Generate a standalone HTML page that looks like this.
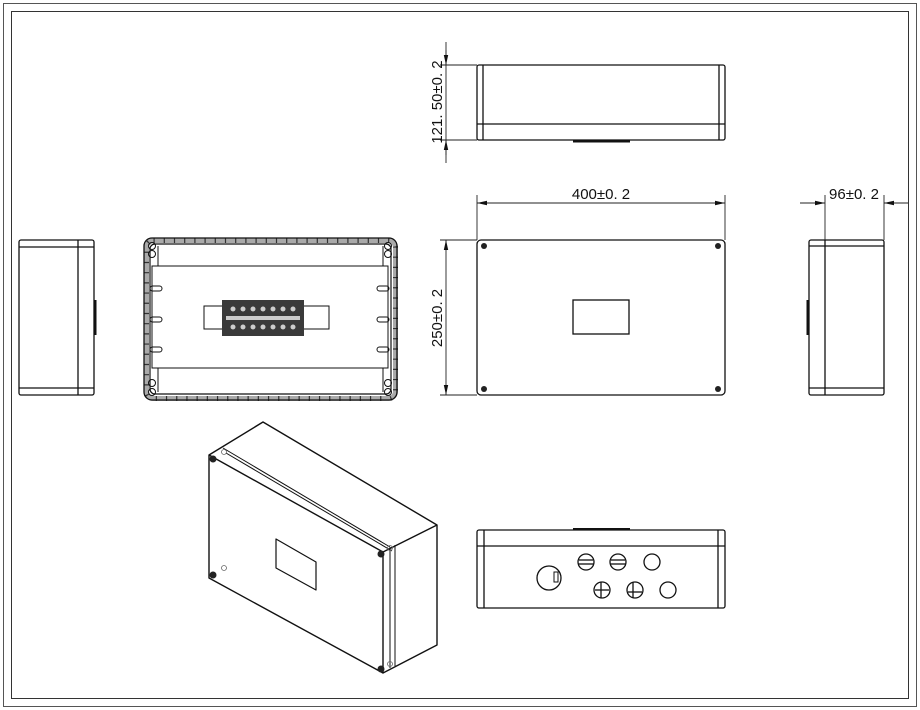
<!DOCTYPE html>
<html><head><meta charset="utf-8"><style>
html,body{margin:0;padding:0;background:#fff;}
svg{display:block;}
text{font-family:"Liberation Sans","DejaVu Sans",sans-serif;font-size:15px;fill:#111;}
</style></head><body>
<svg width="920" height="710" viewBox="0 0 920 710" xmlns="http://www.w3.org/2000/svg">
<defs>
<marker id="ar" markerWidth="10" markerHeight="6" refX="10" refY="3" orient="auto" markerUnits="userSpaceOnUse"><path d="M0,0.8 L10,3 L0,5.2 z" fill="#111"/></marker>
</defs>
<rect x="0" y="0" width="920" height="710" fill="#fff"/>
<rect x="3.5" y="3.5" width="913" height="703" fill="none" stroke="#555" stroke-width="1"/>
<rect x="11.5" y="11.5" width="897" height="687" fill="none" stroke="#333" stroke-width="1"/>

<g fill="none" stroke="#111" stroke-width="1.3">
<rect x="477" y="65" width="248" height="75" rx="2"/>
<line x1="483" y1="65" x2="483" y2="140"/><line x1="719" y1="65" x2="719" y2="140"/>
<line x1="477" y1="124" x2="725" y2="124"/>
<line x1="573" y1="141.5" x2="630" y2="141.5" stroke-width="2"/>
<rect x="19" y="240" width="75" height="155" rx="2"/>
<line x1="78" y1="240" x2="78" y2="395"/>
<line x1="19" y1="247" x2="94" y2="247"/><line x1="19" y1="388" x2="94" y2="388"/>
<line x1="95.5" y1="300" x2="95.5" y2="335" stroke-width="2"/>
<rect x="809" y="240" width="75" height="155" rx="2"/>
<line x1="825" y1="240" x2="825" y2="395"/>
<line x1="809" y1="246" x2="884" y2="246"/><line x1="809" y1="388" x2="884" y2="388"/>
<line x1="807.5" y1="300" x2="807.5" y2="335" stroke-width="2"/>
<rect x="477" y="240" width="248" height="155" rx="4"/>
<rect x="573" y="300" width="56" height="34"/>
</g>
<g fill="#222">
<circle cx="484" cy="246" r="3"/><circle cx="718" cy="246" r="3"/>
<circle cx="484" cy="389" r="3"/><circle cx="718" cy="389" r="3"/>
</g>

<g stroke="#222" stroke-width="0.9" fill="none">
<line x1="446" y1="42" x2="446" y2="163"/>
<line x1="446" y1="50" x2="446" y2="65" marker-end="url(#ar)"/>
<line x1="446" y1="155" x2="446" y2="140" marker-end="url(#ar)"/>
<line x1="440" y1="65" x2="477" y2="65"/><line x1="440" y1="140" x2="477" y2="140"/>
<line x1="477" y1="195" x2="477" y2="240"/><line x1="725" y1="195" x2="725" y2="240"/>
<line x1="601" y1="203" x2="477" y2="203" marker-end="url(#ar)"/>
<line x1="601" y1="203" x2="725" y2="203" marker-end="url(#ar)"/>
<line x1="440" y1="240" x2="477" y2="240"/><line x1="440" y1="395" x2="477" y2="395"/>
<line x1="446" y1="318" x2="446" y2="240" marker-end="url(#ar)"/>
<line x1="446" y1="318" x2="446" y2="395" marker-end="url(#ar)"/>
<line x1="825" y1="195" x2="825" y2="240"/><line x1="884" y1="195" x2="884" y2="240"/>
<line x1="800" y1="203" x2="825" y2="203" marker-end="url(#ar)"/>
<line x1="908" y1="203" x2="884" y2="203" marker-end="url(#ar)"/>
</g>
<text x="601" y="199" text-anchor="middle">400±0. 2</text>
<text x="854" y="199" text-anchor="middle">96±0. 2</text>
<text transform="translate(442,102) rotate(-90)" text-anchor="middle">121. 50±0. 2</text>
<text transform="translate(442,318) rotate(-90)" text-anchor="middle">250±0. 2</text>

<!-- internal view -->
<g fill="none" stroke="#111">
<rect x="146.5" y="240.5" width="249" height="158" rx="7" stroke="#aaa" stroke-width="5"/>
<rect x="146.5" y="240.5" width="249" height="158" rx="7" stroke="#333" stroke-width="5" stroke-dasharray="1.2 9"/>
<rect x="144" y="238" width="253" height="162" rx="8" stroke-width="1.3"/>
<rect x="150" y="244" width="241" height="150" rx="5" stroke-width="1.2" fill="#fff"/>
<rect x="152" y="266" width="236" height="102" stroke-width="1"/>
<line x1="158" y1="246" x2="158" y2="266" stroke-width="1"/><line x1="383" y1="246" x2="383" y2="266" stroke-width="1"/>
<line x1="158" y1="368" x2="158" y2="392" stroke-width="1"/><line x1="383" y1="368" x2="383" y2="392" stroke-width="1"/>
<circle cx="152" cy="246" r="3.5"/><circle cx="152" cy="254" r="3.5"/>
<circle cx="388" cy="246" r="3.5"/><circle cx="388" cy="254" r="3.5"/>
<circle cx="152" cy="383" r="3.5"/><circle cx="152" cy="392" r="3.5"/>
<circle cx="388" cy="383" r="3.5"/><circle cx="388" cy="392" r="3.5"/>
<rect x="204" y="306" width="125" height="23" stroke-width="1"/>
<rect x="150" y="286" width="12" height="5" rx="2.5"/><rect x="150" y="317" width="12" height="5" rx="2.5"/><rect x="150" y="347" width="12" height="5" rx="2.5"/>
<rect x="377" y="286" width="12" height="5" rx="2.5"/><rect x="377" y="317" width="12" height="5" rx="2.5"/><rect x="377" y="347" width="12" height="5" rx="2.5"/>
</g>
<rect x="222" y="300" width="82" height="36" fill="#3a3a3a"/>
<g fill="#ccc">
<circle cx="233" cy="309" r="2.5"/><circle cx="243" cy="309" r="2.5"/><circle cx="253" cy="309" r="2.5"/><circle cx="263" cy="309" r="2.5"/><circle cx="273" cy="309" r="2.5"/><circle cx="283" cy="309" r="2.5"/><circle cx="293" cy="309" r="2.5"/>
<circle cx="233" cy="327" r="2.5"/><circle cx="243" cy="327" r="2.5"/><circle cx="253" cy="327" r="2.5"/><circle cx="263" cy="327" r="2.5"/><circle cx="273" cy="327" r="2.5"/><circle cx="283" cy="327" r="2.5"/><circle cx="293" cy="327" r="2.5"/>
<rect x="226" y="316" width="74" height="4"/>
</g>

<!-- bottom view -->
<g fill="none" stroke="#111" stroke-width="1.3">
<rect x="477" y="530" width="248" height="78" rx="2"/>
<line x1="477" y1="546" x2="725" y2="546"/>
<line x1="484" y1="530" x2="484" y2="608"/><line x1="718" y1="530" x2="718" y2="608"/>
<line x1="573" y1="529" x2="630" y2="529" stroke-width="2"/>
<circle cx="549" cy="578" r="12"/>
<circle cx="586" cy="562" r="8"/><circle cx="618" cy="562" r="8"/><circle cx="652" cy="562" r="8"/>
<circle cx="602" cy="590" r="8"/><circle cx="635" cy="590" r="8"/><circle cx="668" cy="590" r="8"/>
<line x1="579" y1="560" x2="593" y2="560"/><line x1="578" y1="564" x2="594" y2="564"/>
<line x1="611" y1="560" x2="625" y2="560"/><line x1="610" y1="564" x2="626" y2="564"/>
<line x1="601" y1="582" x2="601" y2="598"/><line x1="595" y1="590" x2="609" y2="590"/>
<line x1="633" y1="582" x2="633" y2="598"/><line x1="628" y1="592" x2="642" y2="592"/>
<rect x="554" y="572" width="4" height="10" stroke-width="1"/>
</g>

<!-- iso view -->
<g fill="none" stroke="#111" stroke-width="1.4" stroke-linejoin="round">
<path d="M209,455 L263,422 L437,525 L437,645 L383,673 L209,578 Z"/>
<path d="M209,455 L383,552 L383,673"/>
<path d="M383,552 L437,525"/>
<path d="M223,448 L390,547" stroke-width="1"/>
<path d="M226,453 L392,551" stroke-width="1"/>
<path d="M390,547 L390,668" stroke-width="1"/>
<path d="M395,545 L395,666" stroke-width="1"/>
<path d="M276,539 L316,562 L316,590 L276,568 Z" stroke-width="1.2"/>
</g>
<g fill="#222">
<circle cx="213" cy="459" r="3.5"/><circle cx="213" cy="575" r="3.5"/>
<circle cx="381" cy="554" r="3.5"/><circle cx="381" cy="669" r="3.5"/>
</g>
<g fill="none" stroke="#666" stroke-width="0.8">
<circle cx="224" cy="452" r="2.5"/><circle cx="224" cy="568" r="2.5"/><circle cx="390" cy="548" r="2.5"/><circle cx="390" cy="664" r="2.5"/>
</g>
</svg>
</body></html>
